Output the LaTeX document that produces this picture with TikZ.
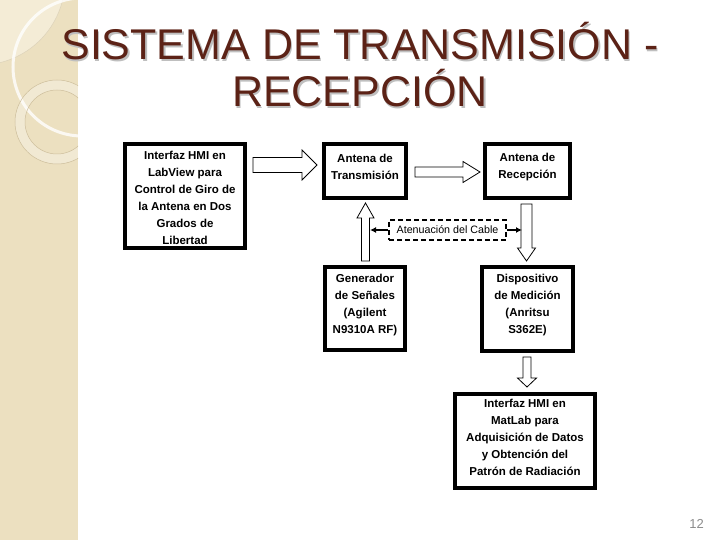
\documentclass[tikz,border=0pt]{standalone}
\usepackage{fontspec}
\setmainfont{Liberation Sans}
\usetikzlibrary{calc,arrows.meta}
\definecolor{titlebrown}{RGB}{92,34,22}
\definecolor{stripe}{RGB}{236,224,192}
\definecolor{stripelight}{RGB}{244,236,214}
\definecolor{ringline}{RGB}{205,190,155}
\definecolor{pagenum}{RGB}{140,140,140}
\newcommand{\blockarrow}[5]{%
  \coordinate (hb) at ($(#2)!#5!(#1)$);
  \draw[blockarr] ($(#1)!#3!90:(#2)$) -- ($(hb)!#3!-90:(#1)$) -- ($(hb)!#4!-90:(#1)$) -- (#2)
     -- ($(hb)!#4!90:(#1)$) -- ($(hb)!#3!90:(#1)$) -- ($(#1)!#3!-90:(#2)$) -- cycle;
}
\tikzset{
  box/.style={draw=black, line width=4pt, fill=white, inner sep=0pt},
  boxtext/.style={font=\bfseries\fontsize{11.5}{17}\selectfont, align=center, inner sep=0pt},
  blockarr/.style={draw=black, line width=0.8pt, fill=white, line join=miter},
  dashbox/.style={draw=black, line width=2pt, dash pattern=on 5pt off 3pt, fill=white,
     font=\fontsize{10.7}{13}\selectfont, inner sep=0pt},
  link/.style={line width=2pt, -{Latex[length=6pt,width=6pt]}},
  titletext/.style={font=\fontsize{43}{50}\selectfont, text=titlebrown, inner sep=0pt},
  titleshadow/.style={font=\fontsize{43}{50}\selectfont, text=black!25, inner sep=0pt},
}
\begin{document}
\begin{tikzpicture}[x=1pt,y=-1pt]
\useasboundingbox (0,0) rectangle (720,540);
\fill[white] (0,0) rectangle (720,540);
% decorative stripe
\fill[stripe] (0,0) rectangle (78,540);
\begin{scope}
  \clip (0,0) rectangle (78,540);
  \fill[stripelight] (-20,-20) circle[radius=85pt];
  \draw[ringline!70, line width=0.5pt] (-20,-20) circle[radius=85pt];
  \draw[white, opacity=0.8, line width=3pt] (82,67) circle[radius=69pt];
  \fill[white, opacity=0.3, even odd rule] (57,122) circle[radius=42pt] (57,122) circle[radius=32pt];
  \draw[ringline, line width=0.5pt] (57,122) circle[radius=42pt] (57,122) circle[radius=32pt];
\end{scope}
% title
\node[titleshadow, anchor=base] (ttl1s) at (361.5,61.5) {SISTEMA DE TRANSMISIÓN -};
\node[titleshadow, anchor=base] (ttl2s) at (361.5,108.5) {RECEPCIÓN};
\node[titletext, anchor=base] (ttl1) at (360,60) {SISTEMA DE TRANSMISIÓN -};
\node[titletext, anchor=base] (ttl2) at (360,107) {RECEPCIÓN};
% boxes
\node[box, minimum width=120pt, minimum height=104pt] (b1) at (185,196) {};
\node[boxtext] (t1) at (185,198) {Interfaz HMI en\\LabView para\\Control de Giro de\\la Antena en Dos\\Grados de\\Libertad};
\node[box, minimum width=82pt, minimum height=54pt] (b2) at (365,171) {};
\node[boxtext] (t2) at (365,167) {Antena de\\Transmisión};
\node[box, minimum width=85pt, minimum height=54pt] (b3) at (527.5,171) {};
\node[boxtext] (t3) at (527.5,167) {Antena de\\Recepción};
\node[box, minimum width=80pt, minimum height=83pt] (b4) at (365,308.5) {};
\node[boxtext] (t4) at (365,305) {Generador\\de Señales\\(Agilent\\N9310A RF)};
\node[box, minimum width=91pt, minimum height=84pt] (b5) at (527.5,309) {};
\node[boxtext] (t5) at (527.5,305) {Dispositivo\\de Medición\\(Anritsu\\S362E)};
\node[box, minimum width=140pt, minimum height=94pt] (b6) at (525,441) {};
\node[boxtext] (t6) at (525,437) {Interfaz HMI en\\MatLab para\\Adquisición de Datos\\y Obtención del\\Patrón de Radiación};
% block arrows
\coordinate (a1s) at (253,165);   \coordinate (a1e) at (317,165);
\coordinate (a2s) at (415,172);   \coordinate (a2e) at (480,172);
\coordinate (a3s) at (365.5,261); \coordinate (a3e) at (365.5,203);
\coordinate (a4s) at (526.5,204); \coordinate (a4e) at (526.5,261);
\coordinate (a5s) at (527,357);   \coordinate (a5e) at (527,387);
\blockarrow{a1s}{a1e}{7.5pt}{15pt}{15pt}
\blockarrow{a2s}{a2e}{5pt}{10.5pt}{17pt}
\blockarrow{a3s}{a3e}{4pt}{8.5pt}{15pt}
\blockarrow{a4s}{a4e}{5.5pt}{9pt}{13pt}
\blockarrow{a5s}{a5e}{4pt}{9.5pt}{9pt}
% cable attenuation
\node[dashbox, minimum width=117pt, minimum height=20pt] (att) at (447.5,230) {Atenuación del Cable};
\coordinate (lt) at (370,230);
\coordinate (rt) at (522,230);
\draw[link] (att.west) -- (lt);
\draw[link] (att.east) -- (rt);
% page number
\node[font=\fontsize{13}{15}\selectfont, text=pagenum, anchor=base, inner sep=0pt] (pn) at (696.5,528) {12};
\end{tikzpicture}
\end{document}
